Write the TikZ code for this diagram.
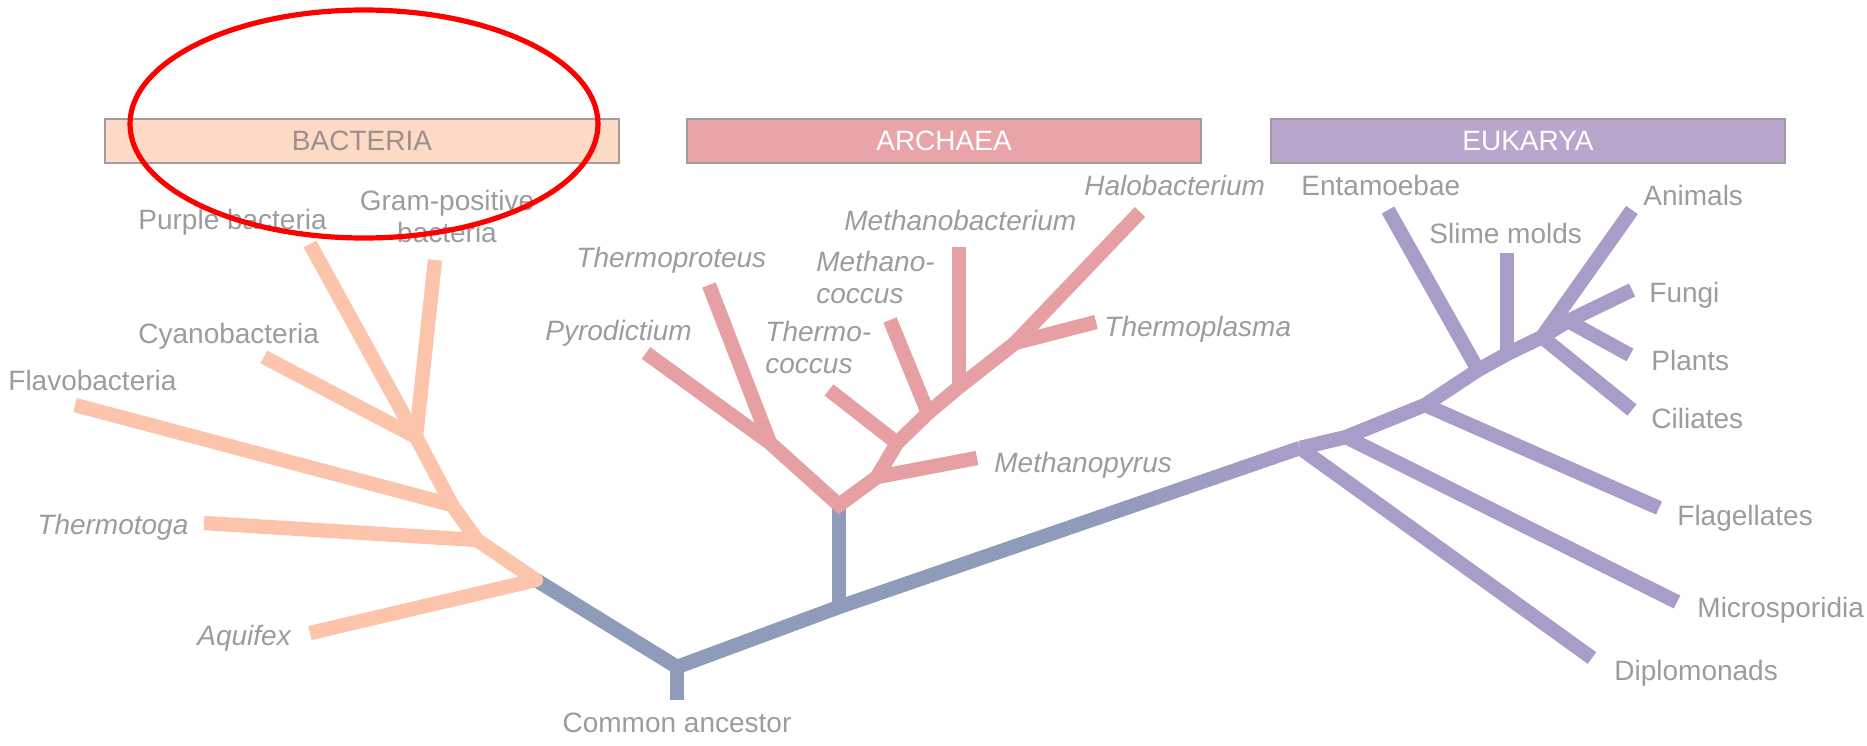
\documentclass[tikz,border=0pt]{standalone}
\usepackage{fontspec}
\setmainfont{Liberation Sans}
\usepackage{xcolor}
\usepackage{tikz}
\usetikzlibrary{positioning,calc}
\definecolor{bactline}{HTML}{FCC5AB}
\definecolor{archline}{HTML}{E6A0A4}
\definecolor{eukline}{HTML}{A89CC8}
\definecolor{stemline}{HTML}{8E9BB9}
\definecolor{labelgray}{HTML}{9C9C9E}
\definecolor{bactbox}{HTML}{FDDAC6}
\definecolor{archbox}{HTML}{E9A4A8}
\definecolor{eukbox}{HTML}{B9A6CC}
\definecolor{boxrule}{HTML}{A39C9E}
\definecolor{bacttext}{HTML}{A08E8C}

\begin{document}
\begin{tikzpicture}[
  x=0.5pt, y=-0.5pt,
  font=\fontsize{14}{16}\selectfont,
  taxon/.style={text=labelgray, inner sep=0pt, align=left},
  genus/.style={taxon, font=\fontsize{14}{16}\selectfont\itshape},
  realm/.style={draw=boxrule, line width=0.7pt, minimum width=257pt,
                minimum height=22pt, inner sep=0pt},
  twig/.style={line width=7.2pt, line cap=butt, line join=round},
  bact/.style={twig, draw=bactline},
  arch/.style={twig, draw=archline},
  euk/.style={twig, draw=eukline},
  rootline/.style={twig, draw=stemline}
]
\useasboundingbox (0,0) rectangle (1867,745);

\node[realm, fill=bactbox, text=bacttext] (bacteria) at (362,141) {BACTERIA};
\node[realm, fill=archbox, text=white] (archaea) at (944,141) {ARCHAEA};
\node[realm, fill=eukbox, text=white] (eukarya) at (1528,141) {EUKARYA};

\coordinate (ca) at (677,667);
\coordinate (caE) at (677,700);
\coordinate (bRoot) at (536,580);
\coordinate (arRoot) at (839,607);
\coordinate (arTop) at (839,505);
\coordinate (eDip) at (1300,448);

\coordinate (aquE) at (310,633);
\coordinate (bThe) at (477,540);
\coordinate (theE) at (204,523);
\coordinate (bFla) at (452,505);
\coordinate (flavoE) at (75,405);
\coordinate (bCya) at (416,437);
\coordinate (cyaE) at (264,357);
\coordinate (purE) at (310,244);
\coordinate (gramE) at (435,260);

\coordinate (aTpr) at (770,443);
\coordinate (pyrE) at (646,353);
\coordinate (tprE) at (709,285);
\coordinate (aMpy) at (877,477);
\coordinate (mpyE) at (977,458);
\coordinate (aTco) at (897,443);
\coordinate (tcoE) at (829,390);
\coordinate (aMco) at (928,413);
\coordinate (mcoE) at (890,320);
\coordinate (aMba) at (959,387);
\coordinate (mbaE) at (959,247);
\coordinate (aTpl) at (1015,343);
\coordinate (tplE) at (1096,322);
\coordinate (haloE) at (1140,212);

\coordinate (eMic) at (1346,437);
\coordinate (eFla) at (1425,405);
\coordinate (eEnt) at (1478,370);
\coordinate (eSli) at (1507,354);
\coordinate (eCil) at (1542,337);
\coordinate (eFP) at (1568,321);
\coordinate (dipE) at (1592,658);
\coordinate (micE) at (1677,602);
\coordinate (flagE) at (1659,508);
\coordinate (entE) at (1388,210);
\coordinate (sliE) at (1507,253);
\coordinate (aniE) at (1632,210);
\coordinate (funE) at (1632,290);
\coordinate (plaE) at (1630,355);
\coordinate (cilE) at (1632,410);

\draw[rootline] (bRoot) -- (ca) -- (arRoot) -- ($(arRoot)!0.5!(eDip)$);
\draw[rootline] (ca) -- (caE);
\draw[rootline] (arRoot) -- (arTop);
\foreach \k in {0,...,7}{
  \pgfmathtruncatemacro\mix{100-\k*100/7}
  \pgfmathsetmacro\ta{0.5+\k/16}
  \pgfmathsetmacro\tb{min(0.5+(\k+1)/16+0.004,1)}
  \draw[twig, draw=stemline!\mix!eukline] ($(arRoot)!\ta!(eDip)$) -- ($(arRoot)!\tb!(eDip)$);
}

\draw[bact] (aquE) -- (bRoot) -- (bThe) -- (bFla) -- (bCya) -- (gramE);
\draw[bact] (bThe) -- (theE);
\draw[bact] (bFla) -- (flavoE);
\draw[bact] (bCya) -- (cyaE);
\draw[bact] (bCya) -- (purE);

\draw[arch, line join=miter] (pyrE) -- (aTpr) -- (arTop) -- (aMpy) -- (aTco) -- (aMco) -- (aMba) -- (aTpl) -- (haloE);
\draw[arch] (aTpr) -- (tprE);
\draw[arch] (aMpy) -- (mpyE);
\draw[arch] (aTco) -- (tcoE);
\draw[arch] (aMco) -- (mcoE);
\draw[arch] (aMba) -- (mbaE);
\draw[arch] (aTpl) -- (tplE);

\draw[euk] (eDip) -- (eMic) -- (eFla) -- (eEnt) -- (eSli) -- (eCil) -- (aniE);
\draw[euk] (eDip) -- (dipE);
\draw[euk] (eMic) -- (micE);
\draw[euk] (eFla) -- (flagE);
\draw[euk] (eEnt) -- (entE);
\draw[euk] (eSli) -- (sliE);
\draw[euk] (eCil) -- (cilE);
\draw[euk] (eCil) -- (eFP) -- (funE);
\draw[euk] (eFP) -- (plaE);

\node[taxon, anchor=base west] (purple) at (138,229) {Purple bacteria};
\node[taxon, anchor=north, align=center] (gram) at (447,190) {Gram-positive\\bacteria};
\node[taxon, anchor=base west] (cyano) at (138,343) {Cyanobacteria};
\node[taxon, anchor=base west] (flavo) at (8,390) {Flavobacteria};
\node[genus, anchor=base west] (thermotoga) at (37,534) {Thermotoga};
\node[genus, anchor=base west] (aquifex) at (197,645) {Aquifex};
\node[taxon, anchor=base] (ancestor) at (677,732) {Common ancestor};

\node[genus, anchor=base west] (pyro) at (545,340) {Pyrodictium};
\node[genus, anchor=base west] (tproteus) at (576,267) {Thermoproteus};
\node[genus, anchor=north west] (tcoccus) at (765,321) {Thermo-\\coccus};
\node[genus, anchor=north west] (mcoccus) at (816,251) {Methano-\\coccus};
\node[genus, anchor=base west] (mbact) at (844,230) {Methanobacterium};
\node[genus, anchor=base west] (halo) at (1084,195) {Halobacterium};
\node[genus, anchor=base west] (tplasma) at (1104,336) {Thermoplasma};
\node[genus, anchor=base west] (mpyrus) at (994,472) {Methanopyrus};

\node[taxon, anchor=base west] (entam) at (1301,195) {Entamoebae};
\node[taxon, anchor=base west] (slime) at (1429,243) {Slime molds};
\node[taxon, anchor=base west] (animals) at (1643,205) {Animals};
\node[taxon, anchor=base west] (fungi) at (1649,302) {Fungi};
\node[taxon, anchor=base west] (plants) at (1651,370) {Plants};
\node[taxon, anchor=base west] (ciliates) at (1651,428) {Ciliates};
\node[taxon, anchor=base west] (flagell) at (1677,525) {Flagellates};
\node[taxon, anchor=base west] (micro) at (1697,617) {Microsporidia};
\node[taxon, anchor=base west] (diplo) at (1614,680) {Diplomonads};

\draw[red, line width=2.6pt] (364,124) ellipse [x radius=117pt, y radius=57pt];
\end{tikzpicture}
\end{document}
